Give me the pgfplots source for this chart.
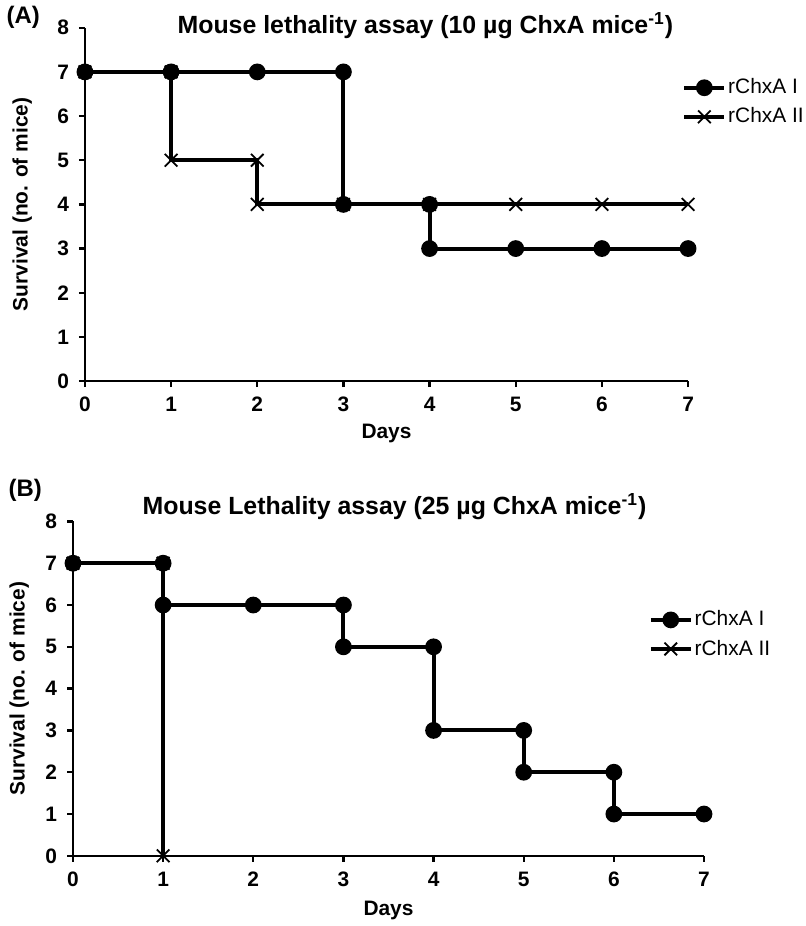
\documentclass[border=0pt]{standalone}
\usepackage{fontspec}
\setmainfont{Liberation Sans}
\usepackage{pgfplots}
\pgfplotsset{compat=1.18}

% shared look of both panels (Excel-like step survival plot)
\pgfplotsset{
  mouseaxis/.style={
    scale only axis,
    xmin=0, xmax=7, ymin=0, ymax=8,
    axis x line=bottom, axis y line=left,
    axis line style={line width=1.2pt, -},
    xtick={0,...,7}, ytick={0,...,8},
    tick align=outside, major tick length=3pt,
    tick style={line width=1.2pt, black},
    /pgf/number format/assume math mode=true,
    tick label style={font=\fontsize{10.5}{12}\selectfont\bfseries},
    xticklabel style={yshift=-1.5pt},
    yticklabel style={xshift=-1.5pt},
    label style={font=\fontsize{10.5}{12}\selectfont\bfseries},
    xlabel={Days}, ylabel={Survival (no. of mice)},
    clip=false,
    legend style={draw=none, fill=none, font=\fontsize{10.5}{12}\selectfont,
      inner sep=0pt, row sep=1.5pt, nodes={inner xsep=1pt}},
    legend cell align=left,
    legend image code/.code={\draw[mark repeat=2,mark phase=2,#1]
      plot coordinates {(0pt,0pt)(10pt,0pt)(20pt,0pt)};},
  },
  survI/.style={black, line width=2pt, mark=*, mark size=3.2pt},
  survII/.style={black, line width=2pt, mark=x, mark size=4.5pt,
    mark options={line width=0.9pt}},
}

\begin{document}
\begin{tikzpicture}
\path (0pt,0pt) rectangle (400pt,463pt);

% panel A
\node at (9pt,455.5pt) {\fontsize{12}{14}\selectfont\bfseries (A)};
\node at (211pt,451.5pt) {\fontsize{12.5}{14}\selectfont\bfseries Mouse lethality assay (10 µg ChxA mice\textsuperscript{-1})};
\begin{axis}[mouseaxis,
  at={(40pt,273pt)}, anchor=south west, width=303pt, height=177.5pt,
  ylabel style={at={(axis description cs:-0.104,0.5)}, anchor=center},
  xlabel style={at={(axis description cs:0.5,-0.148)}, anchor=center},
  legend style={at={(0.99,0.789)}, anchor=west},
]
\addplot[survI] coordinates {
  (0,7) (1,7) (2,7) (3,7) (3,4) (4,4) (4,3) (5,3) (6,3) (7,3)};
\addlegendentry{rChxA I}
\addplot[survII] coordinates {
  (0,7) (1,7) (1,5) (2,5) (2,4) (3,4) (4,4) (5,4) (6,4) (7,4)};
\addlegendentry{rChxA II}
\end{axis}

% panel B
\node at (10pt,218pt) {\fontsize{12}{14}\selectfont\bfseries (B)};
\node at (195.5pt,210pt) {\fontsize{12.5}{14}\selectfont\bfseries Mouse Lethality assay (25 µg ChxA mice\textsuperscript{-1})};
\begin{axis}[mouseaxis,
  at={(34pt,34.5pt)}, anchor=south west, width=317pt, height=168pt,
  ylabel style={at={(axis description cs:-0.085,0.5)}, anchor=center},
  xlabel style={at={(axis description cs:0.5,-0.162)}, anchor=center},
  legend style={at={(0.912,0.662)}, anchor=west},
]
\addplot[survI] coordinates {
  (0,7) (1,7) (1,6) (2,6) (3,6) (3,5) (4,5) (4,3) (5,3) (5,2) (6,2) (6,1) (7,1)};
\addlegendentry{rChxA I}
\addplot[survII] coordinates {(0,7) (1,7) (1,0)};
\addlegendentry{rChxA II}
\end{axis}
\end{tikzpicture}
\end{document}
